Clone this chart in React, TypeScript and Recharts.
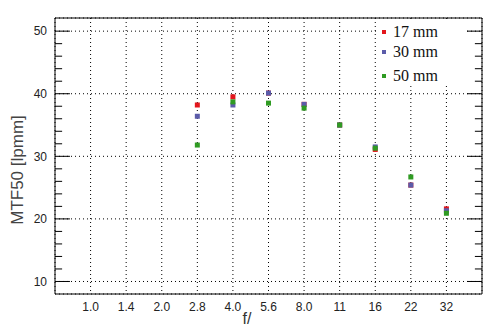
import React from 'react';
import {
  ScatterChart,
  Scatter,
  XAxis,
  YAxis,
  CartesianGrid,
  ReferenceArea,
  ReferenceLine,
  Label,
} from 'recharts';

// f-stop categories shown on the x axis
const F_STOPS = ['1.0', '1.4', '2.0', '2.8', '4.0', '5.6', '8.0', '11', '16', '22', '32'];
// measured apertures (f/2.8 .. f/32)
const MEASURED = ['2.8', '4.0', '5.6', '8.0', '11', '16', '22', '32'];

const MTF_17 = [38.2, 39.5, 40.1, 38.3, 35.0, 31.1, 25.4, 21.6];
const MTF_30 = [36.4, 38.2, 40.1, 38.3, 35.0, 31.5, 25.4, 21.3];
const MTF_50 = [31.8, 38.7, 38.5, 37.7, 35.0, 31.3, 26.7, 20.9];

const Y_TICKS = [10, 20, 30, 40, 50];
const Y_MINOR = [12, 14, 16, 18, 22, 24, 26, 28, 32, 34, 36, 38, 42, 44, 46, 48];

const SERIES = [
  { name: '17 mm', values: MTF_17, color: '#e3161c' },
  { name: '30 mm', values: MTF_30, color: '#5b5ba9' },
  { name: '50 mm', values: MTF_50, color: '#2f9b22' },
];

const X_MIN = 0;
const X_MAX = F_STOPS.length + 1;
const Y_MIN = 8;
const Y_MAX = 52.1;

const SANS = '"Liberation Sans", Arial, sans-serif';
const SERIF = '"Liberation Serif", "Times New Roman", serif';

const toPoints = (values: number[]) =>
  values.map((v, i) => ({ x: F_STOPS.indexOf(MEASURED[i]) + 1, y: v }));

const square = (color: string) => (props: any) => (
  <rect x={props.cx - 2.5} y={props.cy - 2.5} width={5} height={5} fill={color} />
);

// tick lengths in x data units (one category step ~35.6px)
const MAJOR_LEN = 0.42;
const MINOR_LEN = 0.2;

// legend row centres (page y)
const LEGEND_ROWS = [32, 52, 76];

export default function App() {
  return (
    <div style={{ position: 'absolute', left: 0, top: 0, width: 494, height: 331, background: '#fff' }}>
      <ScatterChart width={494} height={331} margin={{ top: 18, right: 12, left: 15, bottom: 17 }}>
        <CartesianGrid stroke="#000" strokeDasharray="1 3" />
        <XAxis
          type="number"
          dataKey="x"
          domain={[X_MIN, X_MAX]}
          ticks={F_STOPS.map((_, i) => i + 1)}
          tickFormatter={(v: number) => F_STOPS[v - 1]}
          axisLine={false}
          tickLine={false}
          height={20}
          tick={{ fill: '#222', fontSize: 12, fontFamily: SANS }}
          allowDataOverflow
        >
          <Label
            content={() => (
              <text x={247} y={324} textAnchor="middle" fill="#333" fontSize={16} fontFamily={SANS}>
                f/
              </text>
            )}
          />
        </XAxis>
        <YAxis
          type="number"
          dataKey="y"
          domain={[Y_MIN, Y_MAX]}
          ticks={Y_TICKS}
          axisLine={false}
          tickLine={false}
          width={40}
          tick={{ fill: '#222', fontSize: 12, fontFamily: SANS }}
          allowDataOverflow
        >
          <Label
            content={() => (
              <text
                x={17}
                y={170}
                transform="rotate(-90 17 170)"
                textAnchor="middle"
                dominantBaseline="central"
                fill="#444"
                fontSize={17}
                fontFamily={SANS}
              >
                MTF50 [lpmm]
              </text>
            )}
          />
        </YAxis>
        <ReferenceArea x1={X_MIN} x2={X_MAX} y1={Y_MIN} y2={Y_MAX} fill="none" stroke="#000" strokeWidth={1} />
        {Y_TICKS.map((v) => (
          <ReferenceLine key={'l' + v} segment={[{ x: X_MIN, y: v }, { x: X_MIN + MAJOR_LEN, y: v }]} stroke="#000" />
        ))}
        {Y_TICKS.map((v) => (
          <ReferenceLine key={'r' + v} segment={[{ x: X_MAX - MAJOR_LEN, y: v }, { x: X_MAX, y: v }]} stroke="#000" />
        ))}
        {Y_MINOR.map((v) => (
          <ReferenceLine key={'ml' + v} segment={[{ x: X_MIN, y: v }, { x: X_MIN + MINOR_LEN, y: v }]} stroke="#000" />
        ))}
        {Y_MINOR.map((v) => (
          <ReferenceLine key={'mr' + v} segment={[{ x: X_MAX - MINOR_LEN, y: v }, { x: X_MAX, y: v }]} stroke="#000" />
        ))}
        {SERIES.map((s) => (
          <Scatter
            key={s.name}
            name={s.name}
            data={toPoints(s.values)}
            fill={s.color}
            shape={square(s.color)}
            isAnimationActive={false}
          />
        ))}
      </ScatterChart>
      <div
        style={{
          position: 'absolute',
          left: 377,
          top: 19,
          width: 89,
          height: 65,
          background: '#fff',
          fontFamily: SERIF,
          fontSize: 16,
          color: '#111',
        }}
      >
        {SERIES.map((s, i) => (
          <div
            key={s.name}
            style={{
              position: 'absolute',
              left: 0,
              top: LEGEND_ROWS[i] - 19 - 10,
              height: 20,
              display: 'flex',
              alignItems: 'center',
              whiteSpace: 'nowrap',
            }}
          >
            <span style={{ display: 'inline-block', width: 4, height: 4, background: s.color, marginLeft: 5, marginRight: 7 }} />
            <span>{s.name}</span>
          </div>
        ))}
      </div>
    </div>
  );
}
